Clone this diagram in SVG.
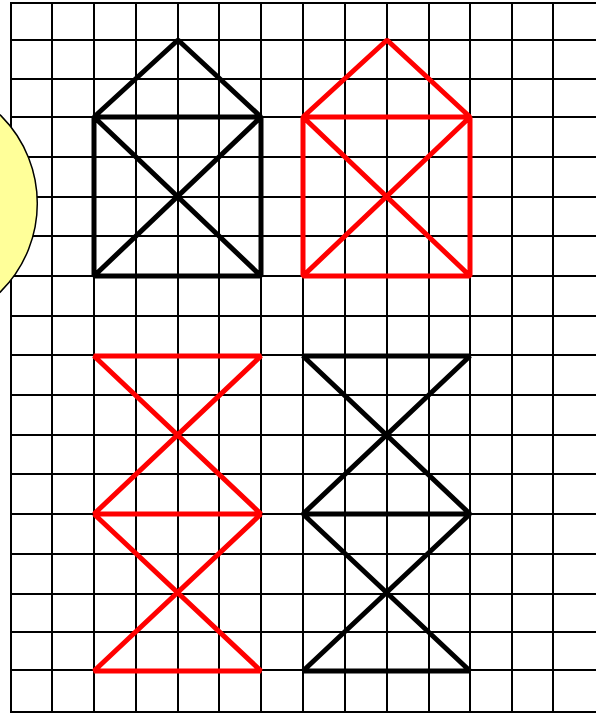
<svg xmlns="http://www.w3.org/2000/svg" width="596" height="713" viewBox="0 0 596 713">
<style>
.g line{stroke:#000;stroke-width:2}
.k{fill:none;stroke:#000;stroke-width:5;stroke-linejoin:bevel}
.r{fill:none;stroke:#f00;stroke-width:5;stroke-linejoin:bevel}
</style>
<rect width="596" height="713" fill="#fff"/>
<g id="grid" class="g">
<line x1="11" y1="3" x2="11" y2="712"/>
<line x1="52" y1="3" x2="52" y2="712"/>
<line x1="94" y1="3" x2="94" y2="712"/>
<line x1="136" y1="3" x2="136" y2="712"/>
<line x1="178" y1="3" x2="178" y2="712"/>
<line x1="219" y1="3" x2="219" y2="712"/>
<line x1="261" y1="3" x2="261" y2="712"/>
<line x1="303" y1="3" x2="303" y2="712"/>
<line x1="345" y1="3" x2="345" y2="712"/>
<line x1="387" y1="3" x2="387" y2="712"/>
<line x1="429" y1="3" x2="429" y2="712"/>
<line x1="470" y1="3" x2="470" y2="712"/>
<line x1="512" y1="3" x2="512" y2="712"/>
<line x1="553" y1="3" x2="553" y2="712"/>
<line x1="10" y1="3" x2="596" y2="3"/>
<line x1="10" y1="40" x2="596" y2="40"/>
<line x1="10" y1="79" x2="596" y2="79"/>
<line x1="10" y1="117" x2="596" y2="117"/>
<line x1="10" y1="157" x2="596" y2="157"/>
<line x1="10" y1="197" x2="596" y2="197"/>
<line x1="10" y1="236" x2="596" y2="236"/>
<line x1="10" y1="276" x2="596" y2="276"/>
<line x1="10" y1="316" x2="596" y2="316"/>
<line x1="10" y1="355" x2="596" y2="355"/>
<line x1="10" y1="395" x2="596" y2="395"/>
<line x1="10" y1="435" x2="596" y2="435"/>
<line x1="10" y1="474" x2="596" y2="474"/>
<line x1="10" y1="514" x2="596" y2="514"/>
<line x1="10" y1="554" x2="596" y2="554"/>
<line x1="10" y1="594" x2="596" y2="594"/>
<line x1="10" y1="632" x2="596" y2="632"/>
<line x1="10" y1="670" x2="596" y2="670"/>
<line x1="10" y1="712" x2="596" y2="712"/>
</g>
<g id="sun">
<circle cx="-87" cy="203.5" r="124.3" fill="#ffff99" stroke="#000" stroke-width="1.5"/>
</g>
<g id="house-black">
<path class="k" d="M94 117 L178 40 L261 117 Z M94 117 H261 V276 H94 Z M94 117 L261 276 M261 117 L94 276"/>
</g>
<g id="house-red">
<path class="r" d="M303 117 L387 40 L470 117 Z M303 117 H470 V276 H303 Z M303 117 L470 276 M470 117 L303 276"/>
</g>
<g id="hourglass-red">
<path class="r" d="M94 356 H261 L94 514 H261 Z M94 514 L261 671 H94 L261 514"/>
</g>
<g id="hourglass-black">
<path class="k" d="M303 356 H470 L303 514 H470 Z M303 514 L470 671 H303 L470 514"/>
</g>
</svg>
